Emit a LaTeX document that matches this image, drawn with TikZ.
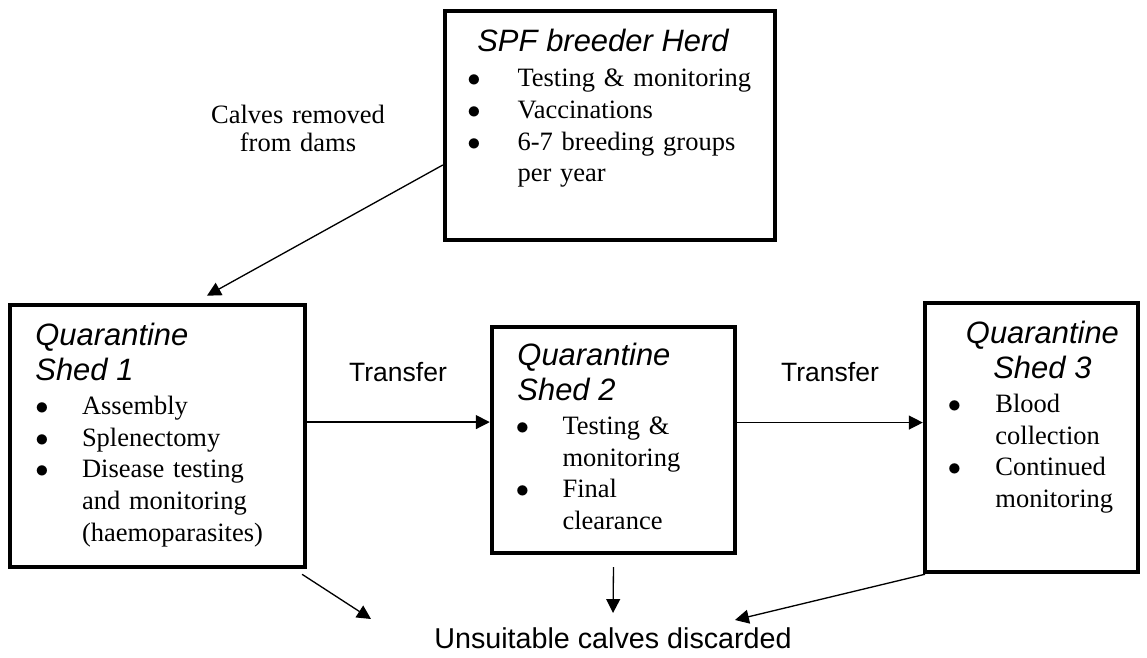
\documentclass[tikz,border=0pt]{standalone}
\usepackage{fontspec}
\setmainfont{Liberation Serif}
\setsansfont{Liberation Sans}
\usetikzlibrary{arrows.meta}
\tikzstyle{arrow} = [line width=0.6pt,-{Triangle[length=6.3pt,width=6.3pt]}]
\tikzstyle{shed} = [rectangle, draw, line width=2pt, inner sep=0pt]
\tikzstyle{listing} = [anchor=base west, inner sep=0pt, align=left, font=\fontsize{12}{14.3}\selectfont]
\tikzstyle{note} = [inner sep=0pt, font=\sffamily\fontsize{12}{14}\selectfont]
\newcommand{\headfont}{\sffamily\itshape\fontsize{14}{16}\selectfont}
\newcommand{\bul}[1]{\makebox[#1][l]{$\bullet$}}

\begin{document}
\begin{tikzpicture}[x=0.453pt, y=-0.453pt]
\useasboundingbox (0,0) rectangle (1147,657);

% SPF breeder herd
\node[shed, minimum width=149.5pt, minimum height=103.7pt] (herd) at (610,125.5) {};
\node[listing, text width=135pt] (herdtext) at (467,52) {\hspace*{4.5pt}{\headfont SPF breeder Herd}\\[1.5pt]
\bul{22.7pt}Testing \& monitoring\\
\bul{22.7pt}Vaccinations\\
\bul{22.7pt}6-7 breeding groups\\
\hspace*{22.7pt}per year};
\node[anchor=base, inner sep=0pt, text width=80pt, align=center, font=\fontsize{12}{13.1}\selectfont] (calves) at (298,123) {Calves removed\\from dams};

% Quarantine sheds
\node[shed, minimum width=133.6pt, minimum height=118.7pt] (shedA) at (157.5,436) {};
\node[listing, text width=110pt] (shedAtext) at (35,345) {{\headfont Quarantine}\\[1.9pt]
{\headfont Shed 1}\\[1.1pt]
\bul{21.1pt}Assembly\\
\bul{21.1pt}Splenectomy\\
\bul{21.1pt}Disease testing\\
\hspace*{21.1pt}and monitoring\\
\hspace*{21.1pt}(haemoparasites)};

\node[shed, minimum width=110.1pt, minimum height=102.4pt] (shedB) at (613.5,440) {};
\node[listing, text width=95pt] (shedBtext) at (515.5,365) {\hspace*{0.7pt}{\headfont Quarantine}\\[1.9pt]
\hspace*{0.7pt}{\headfont Shed 2}\\[1.1pt]
\bul{21.1pt}Testing \&\\
\hspace*{21.1pt}monitoring\\
\bul{21.1pt}Final\\
\hspace*{21.1pt}clearance};

\node[shed, minimum width=96.5pt, minimum height=121.9pt] (shedC) at (1031.5,437.5) {};
\node[listing, text width=85.6pt] (shedCtext) at (947.5,343) {\makebox[85.6pt][c]{\headfont Quarantine}\\[1.9pt]
\makebox[85.6pt][c]{\headfont Shed 3}\\[1.1pt]
\bul{21.5pt}Blood\\
\hspace*{21.5pt}collection\\
\bul{21.5pt}Continued\\
\hspace*{21.5pt}monitoring};

% Transfers
\draw[arrow] ([yshift=-17.9pt]herd.west) -- ([xshift=22.4pt,yshift=3.2pt]shedA.north);
\draw[arrow] ([yshift=6.3pt]shedA.east) -- ([yshift=6.3pt]shedA.east -| shedB.west);
\draw[arrow] ([yshift=7.9pt]shedB.east) -- ([yshift=7.9pt]shedB.east -| shedC.west);
\node[note] (transferA) at (398,372) {Transfer};
\node[note] (transferB) at (830,372) {Transfer};

% Discards
\node[note, anchor=base, font=\sffamily\fontsize{13}{15}\selectfont] (discard) at (613,648) {Unsuitable calves discarded};
\coordinate (dropA) at (371,619);
\coordinate (dropB) at (613,613);
\coordinate (dropC) at (735,620);
\draw[arrow] ([xshift=-2.3pt,yshift=-2.3pt]shedA.south east) -- (dropA);
\draw[arrow] ([yshift=-5.4pt]shedB.south) -- (dropB);
\draw[arrow] ([xshift=1pt]shedC.south west) -- (dropC);
\end{tikzpicture}
\end{document}
